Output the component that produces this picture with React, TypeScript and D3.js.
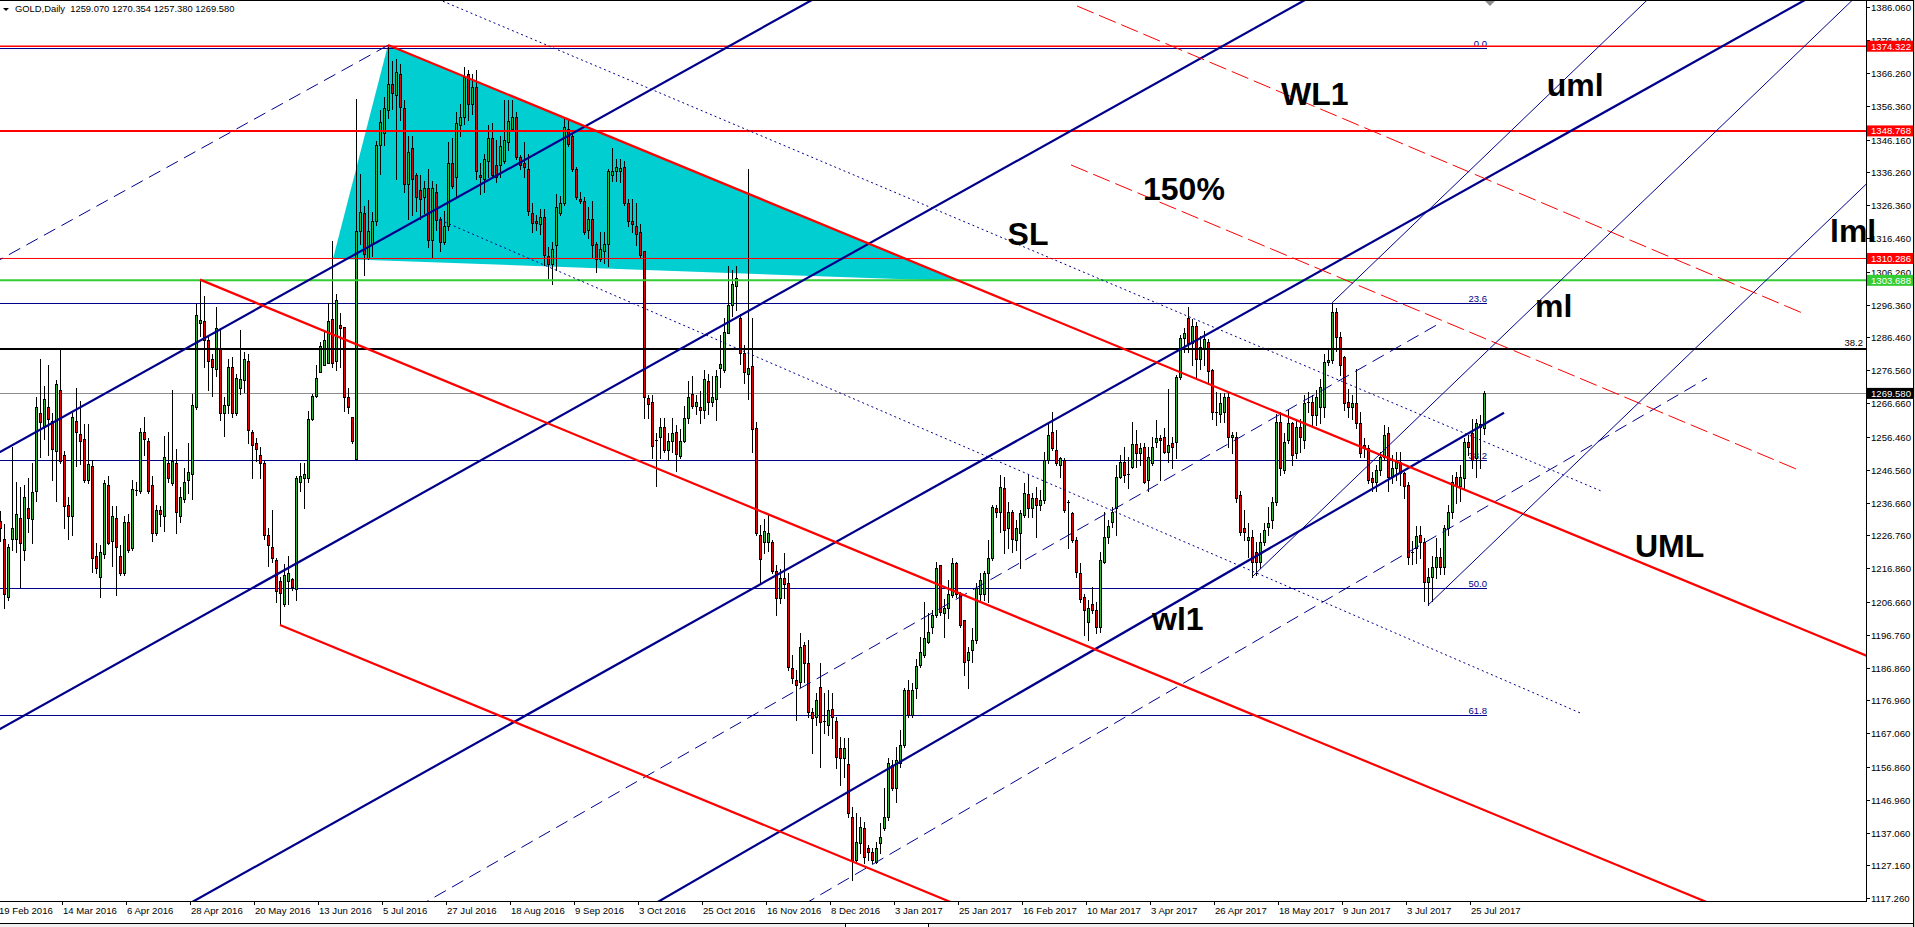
import { useEffect, useRef } from "react";
import * as d3 from "d3";

// daily GOLD bars, 19 Feb 2016 .. 28 Jul 2017 (bar index = trading day)
const opens = [
  1231, 1225.6, 1208.3, 1225.6, 1225.6, 1232.0, 1222.2, 1234.9, 1231.6, 1240.0,
  1263.8, 1259.7, 1265.5, 1261.4, 1252.2, 1270.7, 1251.0, 1236.0, 1232.6, 1261.4,
  1257.4, 1255.7, 1243.6, 1247.6, 1220.5, 1214.1, 1221.0, 1241.8, 1225.0, 1232.0,
  1220.5, 1215.3, 1230.9, 1222.8, 1240.0, 1240.0, 1258.0, 1255.1, 1241.8, 1227.4,
  1234.3, 1232.6, 1248.7, 1242.4, 1248.7, 1232.6, 1237.8, 1243.6, 1245.3, 1265.5,
  1290.9, 1291.5, 1285.7, 1279.9, 1277.0, 1283.4, 1263.8, 1266.0, 1277.6, 1263.8,
  1271.2, 1273.6, 1279.3, 1258.0, 1254.5, 1251.0, 1248.7, 1226.8, 1223.3, 1219.3,
  1212.9, 1206.0, 1213.0, 1213.5, 1210.6, 1243.0, 1244.1, 1244.1, 1262.0, 1268.9,
  1275.9, 1278.2, 1278.8, 1292.0, 1279.4, 1290.3, 1289.7, 1268.4, 1262.6, 1249.9,
  1318.6, 1324.0, 1310.5, 1314.6, 1321.5, 1344.6, 1348.0, 1355.0, 1363.0, 1359.6,
  1366.0, 1355.8, 1332.7, 1343.7, 1335.6, 1331.0, 1328.7, 1331.5, 1315.9, 1330.4,
  1322.3, 1315.4, 1320.0, 1339.0, 1335.0, 1350.6, 1352.9, 1366.0, 1357.0, 1362.0,
  1335.6, 1334.4, 1339.6, 1346.5, 1338.5, 1338.5, 1339.6, 1345.4, 1349.4, 1352.9,
  1340.8, 1339.0, 1337.3, 1324.0, 1321.7, 1320.6, 1322.9, 1311.0, 1308.5, 1314.2,
  1324.0, 1326.9, 1349.4, 1347.1, 1337.3, 1328.1, 1327.5, 1318.8, 1322.3, 1314.8,
  1310.2, 1312.5, 1314.8, 1335.6, 1336.7, 1336.7, 1337.9, 1326.9, 1321.7, 1320.0,
  1318.3, 1312.5, 1268.3, 1266.9, 1255.6, 1256.5, 1259.4, 1252.4, 1255.3, 1257.9,
  1250.7, 1255.3, 1262.3, 1269.4, 1265.7, 1265.5, 1264.6, 1273.2, 1266.9, 1268.0,
  1277.3, 1276.7, 1287.7, 1296.3, 1302.1, 1292.3, 1281.9, 1275.5, 1277.9, 1259.0,
  1227.0, 1224.7, 1224.7, 1224.7, 1216.0, 1208.0, 1213.8, 1212.3, 1186.6, 1183.1,
  1182.6, 1193.7, 1188.3, 1173.6, 1172.1, 1181.1, 1170.8, 1169.5, 1174.3, 1170.8,
  1162.5, 1159.5, 1157.8, 1141.9, 1128.8, 1133.8, 1138.4, 1132.3, 1131.3, 1128.3,
  1133.8, 1138.4, 1141.9, 1157.5, 1150.4, 1158.0, 1163.5, 1180.1, 1172.6, 1180.6,
  1187.6, 1190.7, 1194.7, 1199.2, 1202.7, 1217.8, 1203.2, 1204.7, 1208.8, 1218.3,
  1209.2, 1201.2, 1189.1, 1192.2, 1195.2, 1209.2, 1209.2, 1215.3, 1219.8, 1234.9,
  1233.9, 1240.9, 1228.9, 1233.9, 1225.4, 1227.4, 1232.9, 1239.1, 1234.9, 1237.9,
  1236.0, 1237.4, 1249.5, 1258.0, 1252.5, 1248.0, 1249.5, 1236.9, 1233.4, 1225.4,
  1215.3, 1208.2, 1200.7, 1206.0, 1204.2, 1199.2, 1218.8, 1226.3, 1230.9, 1234.9,
  1244.5, 1249.0, 1245.0, 1247.5, 1254.2, 1251.5, 1253.5, 1243.5, 1248.5, 1255.0,
  1256.0, 1256.5, 1252.0, 1254.5, 1255.0, 1274.6, 1286.2, 1292.2, 1284.7, 1290.0,
  1280.0, 1283.0, 1285.0, 1276.5, 1264.0, 1263.5, 1264.0, 1268.6, 1256.5, 1256.5,
  1239.0, 1228.9, 1225.4, 1226.4, 1221.8, 1218.8, 1224.9, 1229.4, 1231.4, 1236.9,
  1261.0, 1246.5, 1255.5, 1260.6, 1251.5, 1259.5, 1255.5, 1266.6, 1267.1, 1263.1,
  1265.6, 1265.6, 1279.2, 1279.7, 1294.2, 1286.7, 1280.7, 1267.1, 1265.6, 1266.6,
  1260.6, 1254.0, 1253.0, 1244.0, 1243.0, 1246.5, 1250.5, 1257.5, 1244.5, 1247.0,
  1249.0, 1245.5, 1242.0, 1221.3, 1222.8, 1226.9, 1224.9, 1212.8, 1214.3, 1217.3,
  1220.3, 1217.3, 1228.9, 1233.9, 1244.5, 1241.5, 1244.0, 1255.0, 1257.5, 1250.0,
  1260.4, 1259.07,
];

const highs = [
  1234, 1230.3, 1224.0, 1253.4, 1243.0, 1241.4, 1241.8, 1244.2, 1248.7, 1268.4,
  1280.0, 1271.8, 1278.2, 1263.8, 1273.6, 1282.8, 1252.2, 1238.4, 1263.8, 1271.2,
  1267.2, 1260.3, 1260.3, 1249.4, 1224.5, 1223.9, 1243.6, 1244.7, 1235.5, 1235.5,
  1223.9, 1232.6, 1233.2, 1243.6, 1242.9, 1259.2, 1262.6, 1256.2, 1244.7, 1236.0,
  1235.5, 1256.8, 1257.9, 1270.7, 1252.8, 1241.2, 1247.0, 1254.5, 1269.5, 1296.7,
  1303.9, 1299.0, 1286.8, 1281.6, 1295.5, 1289.2, 1268.4, 1279.9, 1280.5, 1275.3,
  1288.6, 1282.2, 1281.6, 1258.6, 1256.2, 1253.4, 1249.3, 1229.1, 1234.3, 1219.9,
  1214.1, 1218.1, 1220.5, 1213.9, 1244.7, 1248.7, 1248.7, 1264.3, 1269.5, 1278.2,
  1285.1, 1288.0, 1297.0, 1315.7, 1299.6, 1293.8, 1289.7, 1271.2, 1262.6, 1358.4,
  1335.9, 1326.1, 1327.8, 1324.4, 1345.8, 1355.0, 1359.0, 1374.6, 1370.0, 1370.6,
  1369.0, 1358.0, 1347.1, 1347.1, 1336.2, 1335.6, 1333.8, 1337.3, 1333.8, 1332.7,
  1322.9, 1324.6, 1345.4, 1346.5, 1354.6, 1357.0, 1368.0, 1367.0, 1366.0, 1367.0,
  1339.0, 1341.9, 1350.6, 1351.2, 1345.9, 1347.1, 1358.0, 1358.0, 1358.0, 1354.6,
  1341.4, 1345.4, 1341.9, 1326.9, 1323.5, 1325.2, 1325.2, 1313.6, 1315.4, 1329.8,
  1329.2, 1352.9, 1352.3, 1347.7, 1337.9, 1330.4, 1328.7, 1325.8, 1327.5, 1315.4,
  1318.3, 1318.3, 1337.3, 1343.7, 1340.2, 1340.2, 1339.6, 1328.1, 1328.1, 1326.9,
  1320.6, 1312.5, 1269.2, 1269.2, 1257.6, 1262.3, 1262.3, 1257.6, 1262.3, 1259.9,
  1258.8, 1265.7, 1273.2, 1274.9, 1269.2, 1270.3, 1276.7, 1275.5, 1274.9, 1276.7,
  1287.1, 1292.3, 1307.9, 1306.7, 1307.9, 1293.4, 1284.2, 1337.3, 1292.3, 1261.1,
  1229.9, 1231.7, 1232.8, 1225.3, 1217.8, 1216.6, 1221.3, 1215.3, 1190.6, 1186.1,
  1197.2, 1194.7, 1195.2, 1174.6, 1179.1, 1188.1, 1179.1, 1180.1, 1179.1, 1172.1,
  1166.0, 1165.5, 1165.5, 1144.9, 1142.9, 1141.9, 1140.4, 1133.3, 1132.3, 1134.3,
  1139.9, 1150.4, 1159.5, 1159.0, 1163.0, 1168.0, 1180.6, 1183.1, 1182.1, 1189.6,
  1196.2, 1206.7, 1203.2, 1204.2, 1218.8, 1217.8, 1207.7, 1213.3, 1219.8, 1218.8,
  1209.7, 1201.2, 1193.2, 1198.7, 1212.3, 1215.3, 1216.0, 1225.3, 1235.9, 1235.9,
  1244.9, 1244.4, 1236.9, 1234.4, 1231.4, 1234.4, 1242.4, 1244.9, 1239.4, 1241.4,
  1240.4, 1252.0, 1260.5, 1264.0, 1258.5, 1250.5, 1250.0, 1237.4, 1233.9, 1226.4,
  1218.3, 1209.2, 1207.2, 1211.3, 1206.7, 1221.8, 1233.9, 1231.4, 1235.4, 1248.0,
  1251.0, 1253.5, 1250.5, 1261.0, 1258.5, 1254.5, 1254.5, 1253.5, 1256.5, 1261.5,
  1257.0, 1259.0, 1271.0, 1256.5, 1275.0, 1287.2, 1289.2, 1295.7, 1292.0, 1291.0,
  1287.0, 1288.5, 1286.0, 1277.0, 1270.0, 1269.6, 1269.6, 1269.6, 1258.0, 1258.0,
  1240.0, 1234.4, 1230.4, 1228.4, 1224.9, 1227.4, 1230.4, 1235.4, 1238.4, 1263.5,
  1264.0, 1257.5, 1264.5, 1261.0, 1262.0, 1262.0, 1269.0, 1270.0, 1269.0, 1270.6,
  1274.0, 1281.5, 1283.0, 1296.9, 1295.2, 1288.0, 1281.0, 1271.0, 1269.0, 1277.0,
  1264.0, 1256.0, 1254.0, 1246.0, 1248.0, 1252.0, 1260.0, 1259.5, 1251.0, 1252.0,
  1252.0, 1246.0, 1243.0, 1225.0, 1229.5, 1229.5, 1226.0, 1217.0, 1220.5, 1226.0,
  1223.0, 1230.0, 1236.0, 1245.0, 1246.0, 1248.0, 1256.0, 1257.0, 1262.0, 1262.0,
  1263.0, 1270.354,
];

const lows = [
  1225, 1204.9, 1207.2, 1222.2, 1221.6, 1211.2, 1219.3, 1227.9, 1224.5, 1237.2,
  1250.5, 1255.7, 1251.1, 1243.4, 1237.2, 1248.7, 1229.1, 1225.6, 1226.8, 1247.6,
  1248.2, 1243.0, 1242.4, 1215.8, 1215.3, 1208.3, 1219.9, 1224.0, 1217.6, 1208.9,
  1214.7, 1214.7, 1221.6, 1222.2, 1239.0, 1239.5, 1251.1, 1239.5, 1225.1, 1226.8,
  1229.7, 1228.0, 1242.9, 1241.8, 1227.4, 1230.9, 1236.7, 1239.5, 1237.8, 1264.9,
  1286.8, 1277.6, 1270.7, 1268.9, 1274.7, 1261.5, 1256.8, 1263.8, 1262.6, 1263.2,
  1269.3, 1270.1, 1254.5, 1244.1, 1249.3, 1244.1, 1225.6, 1217.6, 1218.7, 1206.6,
  1199.7, 1205.5, 1206.0, 1210.3, 1207.2, 1240.0, 1234.9, 1243.0, 1261.5, 1268.4,
  1275.9, 1278.2, 1278.8, 1277.6, 1276.5, 1277.6, 1264.3, 1263.8, 1254.5, 1249.9,
  1314.6, 1305.3, 1310.0, 1311.1, 1320.3, 1335.9, 1344.6, 1352.7, 1355.5, 1334.2,
  1352.0, 1330.4, 1322.3, 1323.5, 1324.6, 1322.3, 1324.0, 1313.6, 1310.8, 1318.8,
  1312.5, 1314.8, 1318.8, 1331.5, 1328.7, 1347.1, 1350.8, 1352.0, 1354.0, 1334.4,
  1329.8, 1330.4, 1335.0, 1335.0, 1333.3, 1335.0, 1339.0, 1343.0, 1349.4, 1340.2,
  1337.3, 1335.0, 1323.5, 1318.3, 1318.8, 1317.7, 1308.4, 1304.4, 1302.7, 1306.7,
  1323.5, 1326.4, 1344.2, 1336.7, 1328.1, 1326.9, 1317.7, 1316.5, 1310.8, 1306.1,
  1309.6, 1309.0, 1307.9, 1333.8, 1333.8, 1333.3, 1326.4, 1320.0, 1318.3, 1314.2,
  1310.8, 1262.3, 1262.3, 1250.1, 1241.5, 1250.1, 1251.9, 1249.6, 1251.9, 1246.1,
  1250.1, 1254.8, 1260.5, 1265.1, 1263.4, 1260.5, 1262.3, 1263.4, 1265.7, 1261.7,
  1271.5, 1276.1, 1287.7, 1292.9, 1294.6, 1278.4, 1272.6, 1268.0, 1251.9, 1227.0,
  1212.0, 1221.3, 1221.9, 1215.5, 1202.8, 1206.3, 1208.0, 1186.1, 1182.1, 1171.1,
  1181.1, 1182.6, 1172.1, 1161.0, 1169.5, 1157.0, 1167.0, 1166.5, 1165.5, 1156.5,
  1151.4, 1154.0, 1141.9, 1122.8, 1127.8, 1130.8, 1127.8, 1128.8, 1127.8, 1127.8,
  1130.8, 1137.9, 1140.9, 1149.9, 1146.4, 1157.0, 1163.0, 1172.1, 1172.1, 1177.6,
  1187.1, 1190.2, 1194.2, 1197.2, 1202.2, 1202.7, 1196.2, 1201.7, 1208.3, 1208.3,
  1199.2, 1184.6, 1180.6, 1188.6, 1194.2, 1207.2, 1207.2, 1206.7, 1219.3, 1232.4,
  1227.9, 1221.3, 1222.8, 1221.8, 1222.3, 1216.8, 1232.4, 1232.4, 1232.4, 1226.4,
  1234.4, 1236.4, 1248.5, 1252.5, 1248.0, 1244.5, 1233.9, 1222.8, 1224.9, 1214.3,
  1206.7, 1196.7, 1195.2, 1203.2, 1197.2, 1197.7, 1218.3, 1224.3, 1229.4, 1226.9,
  1244.0, 1243.0, 1241.0, 1247.0, 1247.5, 1248.0, 1242.5, 1240.0, 1248.0, 1253.5,
  1243.5, 1251.5, 1249.0, 1247.0, 1250.0, 1274.0, 1282.2, 1282.2, 1278.0, 1274.5,
  1277.0, 1278.0, 1272.5, 1262.0, 1260.0, 1261.0, 1261.0, 1253.5, 1251.5, 1236.9,
  1226.9, 1225.4, 1220.3, 1214.2, 1214.8, 1216.8, 1223.9, 1226.9, 1228.9, 1235.9,
  1245.0, 1245.5, 1254.5, 1248.0, 1250.0, 1252.0, 1253.0, 1264.0, 1259.5, 1260.0,
  1260.5, 1262.5, 1278.0, 1278.7, 1282.5, 1275.0, 1264.5, 1262.6, 1262.0, 1259.0,
  1250.5, 1250.5, 1242.5, 1240.0, 1240.0, 1245.0, 1249.5, 1240.0, 1242.5, 1243.5,
  1242.0, 1238.0, 1218.0, 1218.0, 1218.5, 1220.0, 1207.0, 1205.7, 1207.0, 1214.0,
  1215.0, 1215.0, 1227.0, 1232.0, 1236.5, 1237.0, 1241.0, 1251.0, 1247.0, 1244.5,
  1247.0, 1257.38,
];

const closes = [
  1229, 1209.0, 1223.3, 1229.1, 1233.2, 1224.5, 1238.4, 1232.0, 1239.8, 1265.5,
  1260.9, 1267.8, 1262.0, 1252.8, 1272.4, 1249.3, 1235.5, 1232.6, 1262.6, 1258.0,
  1255.1, 1243.6, 1248.2, 1219.9, 1217.0, 1221.6, 1242.4, 1224.5, 1232.6, 1223.3,
  1215.3, 1230.9, 1222.2, 1240.7, 1240.3, 1258.0, 1255.7, 1240.0, 1227.4, 1234.3,
  1233.2, 1250.5, 1244.1, 1249.3, 1233.7, 1238.4, 1243.0, 1245.9, 1266.0, 1293.2,
  1291.8, 1285.7, 1279.3, 1277.6, 1289.2, 1263.8, 1266.0, 1277.6, 1263.8, 1274.1,
  1273.9, 1279.9, 1258.6, 1254.0, 1252.8, 1248.7, 1226.8, 1223.9, 1219.9, 1210.0,
  1209.5, 1214.7, 1215.3, 1211.2, 1244.1, 1244.7, 1245.3, 1262.0, 1268.9, 1274.1,
  1284.0, 1285.7, 1291.5, 1278.8, 1297.8, 1289.2, 1268.4, 1265.5, 1255.1, 1318.6,
  1324.4, 1311.7, 1318.6, 1321.5, 1344.6, 1351.5, 1355.6, 1363.0, 1360.1, 1366.5,
  1356.0, 1332.7, 1342.5, 1334.4, 1328.7, 1328.1, 1331.5, 1315.9, 1331.5, 1322.0,
  1315.4, 1320.0, 1339.0, 1332.1, 1351.2, 1352.9, 1365.0, 1357.0, 1362.0, 1336.7,
  1335.0, 1340.2, 1346.5, 1335.6, 1335.0, 1344.2, 1346.0, 1351.7, 1352.9, 1340.8,
  1338.5, 1337.9, 1324.6, 1321.1, 1321.1, 1322.9, 1311.3, 1308.5, 1313.0, 1325.8,
  1326.9, 1350.0, 1344.8, 1337.3, 1328.7, 1327.5, 1318.3, 1322.3, 1314.2, 1310.2,
  1313.0, 1314.8, 1336.7, 1336.7, 1337.9, 1337.5, 1326.9, 1321.7, 1320.6, 1317.7,
  1311.3, 1268.6, 1266.3, 1253.6, 1255.1, 1259.4, 1252.4, 1255.3, 1257.6, 1251.3,
  1255.3, 1262.3, 1268.6, 1265.7, 1266.9, 1264.6, 1273.8, 1266.9, 1268.6, 1274.9,
  1278.4, 1288.2, 1296.3, 1302.7, 1304.4, 1281.9, 1276.1, 1277.3, 1258.8, 1227.6,
  1219.5, 1228.2, 1227.6, 1216.0, 1208.0, 1213.8, 1212.0, 1187.1, 1183.6, 1181.6,
  1193.2, 1188.1, 1173.6, 1171.6, 1177.1, 1170.5, 1170.5, 1174.1, 1172.1, 1160.0,
  1159.5, 1162.5, 1142.9, 1128.8, 1134.3, 1138.9, 1129.8, 1131.3, 1128.8, 1132.3,
  1135.9, 1141.9, 1158.0, 1150.4, 1159.0, 1163.5, 1180.1, 1172.6, 1180.1, 1187.3,
  1191.7, 1195.7, 1197.7, 1202.7, 1216.8, 1203.7, 1204.7, 1209.2, 1218.3, 1209.2,
  1199.7, 1188.6, 1191.7, 1195.2, 1210.8, 1213.3, 1215.3, 1219.8, 1235.4, 1233.9,
  1241.4, 1228.4, 1233.9, 1225.8, 1228.9, 1233.4, 1239.4, 1234.9, 1237.9, 1235.9,
  1237.4, 1249.5, 1257.0, 1253.0, 1248.5, 1250.0, 1234.4, 1236.4, 1225.4, 1215.8,
  1207.7, 1204.2, 1204.7, 1204.2, 1199.2, 1219.3, 1226.3, 1229.6, 1233.9, 1244.5,
  1249.0, 1245.0, 1245.2, 1254.2, 1251.5, 1253.0, 1243.0, 1250.5, 1253.5, 1256.0,
  1255.5, 1252.0, 1254.0, 1253.5, 1274.6, 1286.2, 1287.7, 1284.7, 1290.0, 1280.0,
  1283.5, 1286.0, 1276.3, 1264.1, 1263.6, 1266.6, 1268.6, 1256.5, 1257.0, 1237.9,
  1227.9, 1227.9, 1226.4, 1218.8, 1218.8, 1224.9, 1228.4, 1230.4, 1236.9, 1261.0,
  1247.0, 1255.0, 1260.6, 1251.0, 1259.5, 1256.5, 1266.6, 1267.1, 1263.1, 1268.6,
  1271.6, 1279.2, 1279.7, 1294.2, 1286.7, 1278.2, 1266.6, 1265.6, 1266.8, 1260.6,
  1251.5, 1253.0, 1243.5, 1243.0, 1246.5, 1250.5, 1257.0, 1244.5, 1247.0, 1249.0,
  1245.5, 1241.5, 1220.3, 1221.8, 1226.6, 1224.9, 1212.8, 1214.3, 1217.3, 1220.3,
  1217.3, 1228.9, 1233.9, 1243.0, 1241.5, 1244.5, 1255.0, 1253.5, 1249.5, 1260.5,
  1259.5, 1269.58,
];

// one time label every 16 bars, starting at bar 0
const dateLabels = [
  "19 Feb 2016", "14 Mar 2016", "6 Apr 2016", "28 Apr 2016", "20 May 2016", "13 Jun 2016",
  "5 Jul 2016", "27 Jul 2016", "18 Aug 2016", "9 Sep 2016", "3 Oct 2016", "25 Oct 2016",
  "16 Nov 2016", "8 Dec 2016", "3 Jan 2017", "25 Jan 2017", "16 Feb 2017", "10 Mar 2017",
  "3 Apr 2017", "26 Apr 2017", "18 May 2017", "9 Jun 2017", "3 Jul 2017", "25 Jul 2017",
];

const priceTicks = [
  1386.06, 1376.16, 1366.26, 1356.36, 1346.16, 1336.26, 1326.36, 1316.46, 1306.26, 1296.36,
  1286.46, 1276.56, 1266.66, 1256.46, 1246.56, 1236.66, 1226.76, 1216.86, 1206.66, 1196.76,
  1186.86, 1176.96, 1167.06, 1156.86, 1146.96, 1137.06, 1127.16, 1117.26,
];

const redLevels = [1374.322, 1348.768, 1310.286];
const greenLevel = 1303.688;
const bidPrice = 1269.58;
const blackFibPrice = 1283.0;

// fibo retracement (navy), levels in %
const fibHigh = 1373.8;
const fibLow = 1048.0;
const fibLevels = [0, 23.6, 38.2, 50, 61.8];
const fibEndBar = 371.75;

// pitchfork anchors [bar, price]
const redFork = [[50, 1303.9], [97, 1374.7], [70, 1199.7]];
const blueFork = [[313, 1214.2], [333, 1296.9], [357, 1205.7]];

const triangle = [[83.25, 1310.2], [97, 1374.7], [240.5, 1303.4]];

// [bar, price] pairs
const channelLines = [
  { a: [0, 1251.9], b: [203, 1388.27], ext: "both" },
  { a: [0, 1168.33], b: [326.25, 1388.27], ext: "both" },
  { a: [48.5, 1116.45], b: [451.25, 1388.27], ext: "both" },
  { a: [164.9, 1116.47], b: [376, 1263.74], ext: "left" },
];
const dashedLines = [
  { a: [0, 1309.95], b: [97, 1374.6], ext: "left" },
  { a: [107, 1116.5], b: [360, 1290.8], ext: "left" },
  { a: [202.5, 1116.5], b: [426.75, 1274.2], ext: "left" },
];
const dottedLines = [
  { a: [110, 1388.27], b: [400.25, 1240.15], ext: "left" },
  { a: [110, 1321.9], b: [395, 1173.2], ext: "none" },
];
const redDashedLines = [
  { a: [269.25, 1386.46], b: [450.75, 1293.75], ext: "none" },
  { a: [267.75, 1338.5], b: [449, 1246.8], ext: "none" },
];

const textLabels = [
  { text: "WL1", bar: 320.25, price: 1356.6 },
  { text: "SL", bar: 251.9, price: 1314.35 },
  { text: "150%", bar: 285.75, price: 1327.98 },
  { text: "uml", bar: 386.7, price: 1359.4 },
  { text: "ml", bar: 383.75, price: 1292.7 },
  { text: "lml", bar: 457.5, price: 1315.35 },
  { text: "UML", bar: 408.75, price: 1220.2 },
  { text: "wl1", bar: 288, price: 1198.2 },
];

const header = "GOLD,Daily  1259.070 1270.354 1257.380 1269.580";

export default function App() {
  const svgRef = useRef<SVGSVGElement>(null);

  useEffect(() => {
    document.body.style.margin = "0";
    const svg = d3.select(svgRef.current);
    svg.selectAll("*").remove();

    const width = 1915;
    const height = 927;
    const right = 1866;
    const bottom = 901;
    const font = "'Liberation Sans', Arial, sans-serif";
    const navy = "#00008b";

    const x = d3.scaleLinear().domain([0, 371]).range([0, 1484]);
    const y = d3.scaleLinear().domain([1117.26, 1386.06]).range([898.3, 7.3]);
    const pt = (d: number[]): [number, number] => [x(d[0]), y(d[1])];

    svg.append("rect").attr("width", width).attr("height", height).attr("fill", "#fff");
    svg
      .append("defs")
      .append("clipPath")
      .attr("id", "plotClip")
      .append("rect")
      .attr("width", right)
      .attr("height", bottom);

    const plot = svg.append("g").attr("clip-path", "url(#plotClip)");

    const seg = (
      g: any,
      a: [number, number],
      b: [number, number],
      ext: string,
      stroke: string,
      w: number,
      dash?: string
    ) => {
      const dx = b[0] - a[0];
      const dy = b[1] - a[1];
      const k = 40;
      const s = ext === "left" || ext === "both" ? [a[0] - dx * k, a[1] - dy * k] : a;
      const e = ext === "right" || ext === "both" ? [b[0] + dx * k, b[1] + dy * k] : b;
      const l = g
        .append("line")
        .attr("x1", s[0])
        .attr("y1", s[1])
        .attr("x2", e[0])
        .attr("y2", e[1])
        .attr("stroke", stroke)
        .attr("stroke-width", w);
      if (dash) l.attr("stroke-dasharray", dash);
    };

    // background triangle
    plot
      .append("path")
      .attr("d", (d3.line()(triangle.map(pt)) ?? "") + "Z")
      .attr("fill", "#00ced1");

    // bid line
    plot
      .append("line")
      .attr("x1", 0)
      .attr("x2", right)
      .attr("y1", Math.round(y(bidPrice)) + 0.5)
      .attr("y2", Math.round(y(bidPrice)) + 0.5)
      .attr("stroke", "#8c8c8c");

    // fibo
    const fib = plot.append("g");
    fibLevels.forEach((lv) => {
      const py = Math.round(y(fibHigh - ((fibHigh - fibLow) * lv) / 100)) + 0.5;
      fib
        .append("line")
        .attr("x1", 0)
        .attr("x2", x(fibEndBar))
        .attr("y1", py)
        .attr("y2", py)
        .attr("stroke", navy);
      fib
        .append("text")
        .attr("x", x(fibEndBar))
        .attr("y", py - 2)
        .attr("text-anchor", "end")
        .attr("fill", navy)
        .style("font", `9.5px ${font}`)
        .text(lv.toFixed(1));
    });

    // candles
    const candles = plot.append("g");
    closes.forEach((c, i) => {
      const o = opens[i];
      const cx = Math.round(x(i));
      const hi = Math.round(y(Math.max(highs[i], o, c)));
      const lo = Math.round(y(Math.min(lows[i], o, c)));
      candles
        .append("line")
        .attr("x1", cx + 0.5)
        .attr("x2", cx + 0.5)
        .attr("y1", hi)
        .attr("y2", lo + 1)
        .attr("stroke", "#000");
      const top = Math.round(y(Math.max(o, c)));
      const bot = Math.round(y(Math.min(o, c)));
      if (bot - top < 2) {
        candles
          .append("line")
          .attr("x1", cx - 1)
          .attr("x2", cx + 2)
          .attr("y1", top + 0.5)
          .attr("y2", top + 0.5)
          .attr("stroke", "#000");
      } else {
        candles
          .append("rect")
          .attr("x", cx - 0.5)
          .attr("y", top + 0.5)
          .attr("width", 2)
          .attr("height", bot - top)
          .attr("fill", c >= o ? "#32b432" : "#e60000")
          .attr("stroke", "#000");
      }
    });

    // horizontal levels
    const hline = (price: number, color: string, w: number) =>
      plot
        .append("line")
        .attr("x1", 0)
        .attr("x2", right)
        .attr("y1", y(price))
        .attr("y2", y(price))
        .attr("stroke", color)
        .attr("stroke-width", w);
    hline(redLevels[0], "#ff0000", 1.5);
    hline(redLevels[1], "#ff0000", 2);
    hline(redLevels[2], "#ff0000", 1);
    hline(greenLevel, "#32cd32", 2);
    hline(blackFibPrice, "#000", 2);
    plot
      .append("text")
      .attr("x", right - 3)
      .attr("y", y(blackFibPrice) - 3)
      .attr("text-anchor", "end")
      .attr("fill", "#000")
      .style("font", `9.5px ${font}`)
      .text("38.2");

    // trend lines
    channelLines.forEach((l) => seg(plot, pt(l.a), pt(l.b), l.ext, navy, 2.2));
    dashedLines.forEach((l) => seg(plot, pt(l.a), pt(l.b), l.ext, navy, 1, "13,7"));
    dottedLines.forEach((l) => seg(plot, pt(l.a), pt(l.b), l.ext, navy, 1, "2,3"));
    redDashedLines.forEach((l) => seg(plot, pt(l.a), pt(l.b), l.ext, "#ff0000", 1, "18,6"));

    // pitchforks
    const fork = (anchors: number[][], color: string, w: number) => {
      const [p1, p2, p3] = anchors.map(pt);
      const mid: [number, number] = [(p2[0] + p3[0]) / 2, (p2[1] + p3[1]) / 2];
      const dx = mid[0] - p1[0];
      const dy = mid[1] - p1[1];
      [p1, p2, p3].forEach((p) =>
        seg(plot, p, [p[0] + dx, p[1] + dy], "right", color, w)
      );
    };
    fork(redFork, "#ff0000", 2.2);
    fork(blueFork, navy, 1);

    // axes frame
    svg.append("line").attr("x1", 0).attr("x2", 1913).attr("y1", 0.5).attr("y2", 0.5).attr("stroke", "#000");
    svg.append("line").attr("x1", right + 0.5).attr("x2", right + 0.5).attr("y1", 0).attr("y2", bottom + 1).attr("stroke", "#000");
    svg.append("line").attr("x1", 0).attr("x2", right + 1).attr("y1", bottom + 0.5).attr("y2", bottom + 0.5).attr("stroke", "#000");

    // price axis
    const axis = svg.append("g");
    priceTicks.forEach((p) => {
      const py = Math.round(y(p)) + 0.5;
      axis.append("line").attr("x1", right).attr("x2", right + 4).attr("y1", py).attr("y2", py).attr("stroke", "#000");
      axis
        .append("text")
        .attr("x", right + 5)
        .attr("y", py)
        .attr("dy", "0.35em")
        .attr("fill", "#000")
        .style("font", `9.6px ${font}`)
        .text(p.toFixed(3));
    });

    const box = (price: number, fill: string) => {
      const py = y(price);
      axis.append("rect").attr("x", right + 1).attr("y", py - 5.5).attr("width", 46).attr("height", 11).attr("fill", fill);
      axis
        .append("text")
        .attr("x", right + 5)
        .attr("y", py)
        .attr("dy", "0.35em")
        .attr("fill", "#fff")
        .style("font", `9.6px ${font}`)
        .text(price.toFixed(3));
    };
    redLevels.forEach((p) => box(p, "#ff0000"));
    box(greenLevel, "#32cd32");
    box(bidPrice, "#000");

    // time axis
    dateLabels.forEach((t, k) => {
      const bx = x(k * 16);
      axis.append("line").attr("x1", bx - 1.5).attr("x2", bx - 1.5).attr("y1", bottom).attr("y2", bottom + 4).attr("stroke", "#000");
      axis
        .append("text")
        .attr("x", bx - 1)
        .attr("y", 914)
        .attr("fill", "#000")
        .style("font", `9.6px ${font}`)
        .text(t);
    });

    // header
    svg.append("path").attr("d", "M3,8L9,8L6,11Z").attr("fill", "#000");
    svg
      .append("text")
      .attr("x", 15)
      .attr("y", 11.5)
      .attr("fill", "#000")
      .style("font", `9.4px ${font}`)
      .style("white-space", "pre")
      .attr("xml:space", "preserve")
      .text(header);

    // chart shift marker
    svg.append("path").attr("d", "M1485,1L1495,1L1490,6Z").attr("fill", "#8c8c8c");

    // text objects
    textLabels.forEach((l) => {
      svg
        .append("text")
        .attr("x", x(l.bar))
        .attr("y", y(l.price))
        .attr("fill", "#000")
        .style("font", `bold 32px ${font}`)
        .text(l.text);
    });

    // window frame bits
    svg.append("line").attr("x1", 1913.5).attr("x2", 1913.5).attr("y1", 0).attr("y2", height).attr("stroke", "#000");
    svg.append("rect").attr("x", 1914).attr("y", 0).attr("width", 1).attr("height", height).attr("fill", "#d4d0c8");
    svg.append("rect").attr("x", 0).attr("y", 923).attr("width", 1913).attr("height", 4).attr("fill", "#f0f0f0");
    svg.append("line").attr("x1", 0).attr("x2", 845).attr("y1", 923.5).attr("y2", 923.5).attr("stroke", "#000");
    svg.append("line").attr("x1", 928).attr("x2", 1913).attr("y1", 923.5).attr("y2", 923.5).attr("stroke", "#000");
    svg.append("rect").attr("x", 845.5).attr("y", 923.5).attr("width", 83).attr("height", 4).attr("fill", "#fff").attr("stroke", "#000");
  }, []);

  return <svg ref={svgRef} width={1915} height={927} style={{ display: "block" }}></svg>;
}
